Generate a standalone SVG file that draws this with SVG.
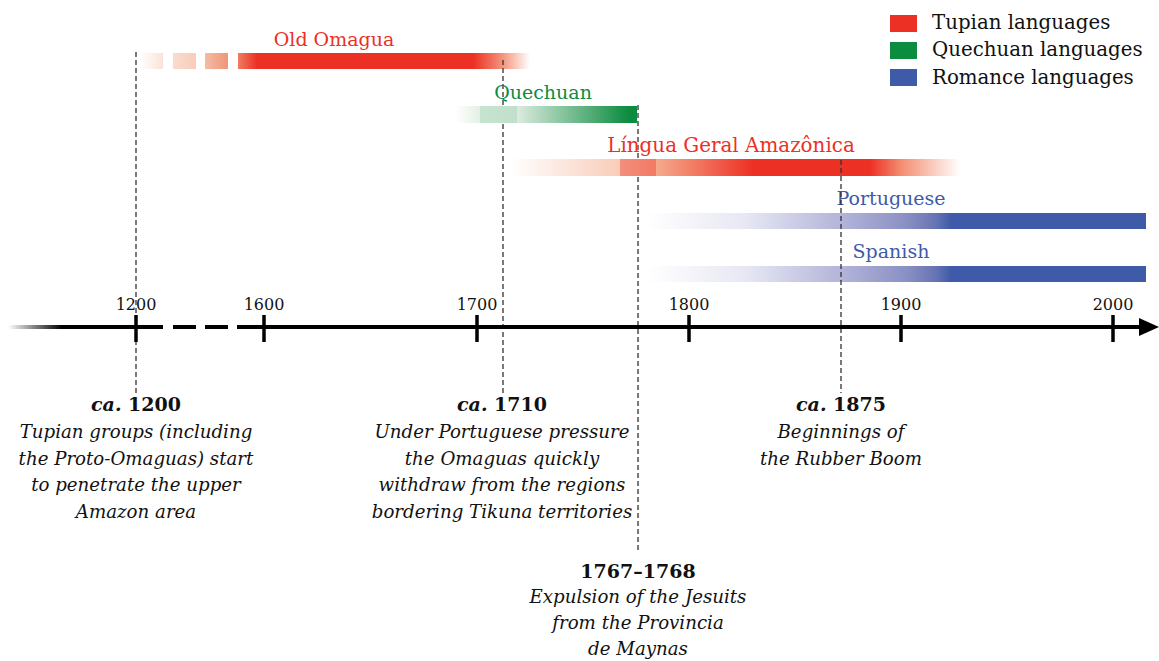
<svg xmlns="http://www.w3.org/2000/svg" width="1159" height="661" viewBox="0 0 1159 661">
<style>
.lbl{font-family:"DejaVu Serif","Liberation Serif",serif;font-size:19px}
.tick{font-family:"DejaVu Serif","Liberation Serif",serif;font-size:16px;fill:#111;text-anchor:middle}
.ann{font-family:"DejaVu Serif","Liberation Serif",serif;font-size:18.2px;font-style:italic;fill:#111;text-anchor:middle}
.hd{font-family:"DejaVu Serif","Liberation Serif",serif;font-size:19px;font-weight:bold;fill:#111;text-anchor:middle}
.leg{font-family:"DejaVu Serif","Liberation Serif",serif;font-size:19.8px;fill:#111}
.red{fill:#ED3024}.green{fill:#0B8C3F}.blue{fill:#3E5AA8}
.vl{stroke:#333;stroke-width:1.3;stroke-dasharray:5 3;fill:none}
.ax{stroke:#000;stroke-width:4;fill:none}
.tk{stroke:#000;stroke-width:3.5}
</style>
<defs>
<linearGradient id="gOld" gradientUnits="userSpaceOnUse" x1="140" y1="0" x2="530" y2="0">
<stop offset="0" stop-color="#fff"/>
<stop offset="0.06" stop-color="#fbe2d8"/>
<stop offset="0.14" stop-color="#f8cdbb"/>
<stop offset="0.17" stop-color="#f5b9a2"/>
<stop offset="0.226" stop-color="#f09579"/>
<stop offset="0.25" stop-color="#ef7f62"/>
<stop offset="0.30" stop-color="#ED3024"/>
<stop offset="0.855" stop-color="#ED3024"/>
<stop offset="0.93" stop-color="#f3957c"/>
<stop offset="1" stop-color="#fff"/>
</linearGradient>
<linearGradient id="gQ" gradientUnits="userSpaceOnUse" x1="455" y1="0" x2="638" y2="0">
<stop offset="0" stop-color="#fff"/>
<stop offset="0.14" stop-color="#e2f0e4"/>
<stop offset="0.34" stop-color="#dcebdf"/>
<stop offset="0.95" stop-color="#0B8C3F"/>
<stop offset="1" stop-color="#0B8C3F"/>
</linearGradient>
<linearGradient id="gL" gradientUnits="userSpaceOnUse" x1="510" y1="0" x2="960" y2="0">
<stop offset="0" stop-color="#fff"/>
<stop offset="0.245" stop-color="#f8cdb9"/>
<stop offset="0.325" stop-color="#f5ab8d"/>
<stop offset="0.54" stop-color="#ED3024"/>
<stop offset="0.80" stop-color="#ED3024"/>
<stop offset="0.87" stop-color="#f38e72"/>
<stop offset="1" stop-color="#fff"/>
</linearGradient>
<linearGradient id="gB" gradientUnits="userSpaceOnUse" x1="647" y1="0" x2="1146" y2="0">
<stop offset="0" stop-color="#fff"/>
<stop offset="0.2" stop-color="#e6e7f3"/>
<stop offset="0.39" stop-color="#b2b4d9"/>
<stop offset="0.52" stop-color="#8a90c4"/>
<stop offset="0.58" stop-color="#6673b3"/>
<stop offset="0.61" stop-color="#3E5AA8"/>
<stop offset="1" stop-color="#3E5AA8"/>
</linearGradient>
<linearGradient id="gAx" gradientUnits="userSpaceOnUse" x1="8" y1="0" x2="62" y2="0">
<stop offset="0" stop-color="#000" stop-opacity="0"/>
<stop offset="1" stop-color="#000"/>
</linearGradient>
</defs>

<g id="old-omagua">
<rect x="140" y="53" width="23" height="16" fill="url(#gOld)"/>
<rect x="173" y="53" width="23" height="16" fill="url(#gOld)"/>
<rect x="205" y="53" width="23" height="16" fill="url(#gOld)"/>
<rect x="238" y="53" width="292" height="16" fill="url(#gOld)"/>
<text class="lbl red" x="334" y="46" text-anchor="middle">Old Omagua</text>
</g>

<g id="connectors">
<line class="vl" x1="136" y1="52" x2="136" y2="393"/>
<line class="vl" x1="503" y1="60" x2="503" y2="393"/>
<line class="vl" x1="638" y1="105" x2="638" y2="552"/>
</g>

<g id="quechuan">
<rect x="455" y="106" width="182" height="17" fill="url(#gQ)"/>
<rect x="480" y="106" width="37" height="17" fill="#0B8C3F" fill-opacity="0.12"/>
<text class="lbl green" x="543" y="99" text-anchor="middle">Quechuan</text>
</g>

<g id="lingua-geral">
<rect x="510" y="159" width="450" height="17" fill="url(#gL)"/>
<rect x="620" y="159" width="36" height="17" fill="#ED3024" fill-opacity="0.4"/>
<text class="lbl red" x="731" y="152" text-anchor="middle" style="font-size:19.9px">Língua Geral Amazônica</text>
</g>

<g id="portuguese">
<rect x="647" y="213" width="499" height="16" fill="url(#gB)"/>
<text class="lbl blue" x="891" y="205" text-anchor="middle">Portuguese</text>
</g>

<g id="spanish">
<rect x="647" y="266" width="499" height="16" fill="url(#gB)"/>
<text class="lbl blue" x="891" y="258" text-anchor="middle">Spanish</text>
</g>

<g id="connector-1875">
<line class="vl" x1="841" y1="160" x2="841" y2="393"/>
</g>

<g id="axis">
<line x1="8" y1="327" x2="62" y2="327" stroke="url(#gAx)" stroke-width="4"/>
<line class="ax" x1="61" y1="327" x2="163" y2="327"/>
<line class="ax" x1="173" y1="327" x2="196" y2="327"/>
<line class="ax" x1="205" y1="327" x2="228" y2="327"/>
<line class="ax" x1="237" y1="327" x2="1142" y2="327"/>
<polygon points="1139,318 1159,327 1139,336" fill="#000"/>
<line class="tk" x1="136" y1="315" x2="136" y2="342"/>
<line class="tk" x1="264" y1="315" x2="264" y2="342"/>
<line class="tk" x1="477" y1="315" x2="477" y2="342"/>
<line class="tk" x1="689" y1="315" x2="689" y2="342"/>
<line class="tk" x1="901" y1="315" x2="901" y2="342"/>
<line class="tk" x1="1113" y1="315" x2="1113" y2="342"/>
<text class="tick" x="136" y="310">1200</text>
<text class="tick" x="264" y="310">1600</text>
<text class="tick" x="477" y="310">1700</text>
<text class="tick" x="689" y="310">1800</text>
<text class="tick" x="901" y="310">1900</text>
<text class="tick" x="1113" y="310">2000</text>
</g>

<g id="note-1200">
<text class="hd" x="136" y="411"><tspan font-style="italic">ca.</tspan> 1200</text>
<text class="ann" x="136" y="438">Tupian groups (including</text>
<text class="ann" x="136" y="465">the Proto-Omaguas) start</text>
<text class="ann" x="136" y="491">to penetrate the upper</text>
<text class="ann" x="136" y="518">Amazon area</text>
</g>

<g id="note-1710">
<text class="hd" x="502" y="411"><tspan font-style="italic">ca.</tspan> 1710</text>
<text class="ann" x="502" y="438">Under Portuguese pressure</text>
<text class="ann" x="502" y="465">the Omaguas quickly</text>
<text class="ann" x="502" y="491">withdraw from the regions</text>
<text class="ann" x="502" y="518">bordering Tikuna territories</text>
</g>

<g id="note-1767">
<text class="hd" x="638" y="578">1767–1768</text>
<text class="ann" x="638" y="603">Expulsion of the Jesuits</text>
<text class="ann" x="638" y="629">from the Provincia</text>
<text class="ann" x="638" y="655">de Maynas</text>
</g>

<g id="note-1875">
<text class="hd" x="841" y="411"><tspan font-style="italic">ca.</tspan> 1875</text>
<text class="ann" x="841" y="438">Beginnings of</text>
<text class="ann" x="841" y="465">the Rubber Boom</text>
</g>

<g id="legend">
<rect x="890" y="15" width="27" height="17" fill="#ED3024"/>
<rect x="890" y="42" width="27" height="17" fill="#0B8C3F"/>
<rect x="890" y="69" width="27" height="17" fill="#3E5AA8"/>
<text class="leg" x="932" y="29">Tupian languages</text>
<text class="leg" x="932" y="56">Quechuan languages</text>
<text class="leg" x="932" y="84">Romance languages</text>
</g>
</svg>
